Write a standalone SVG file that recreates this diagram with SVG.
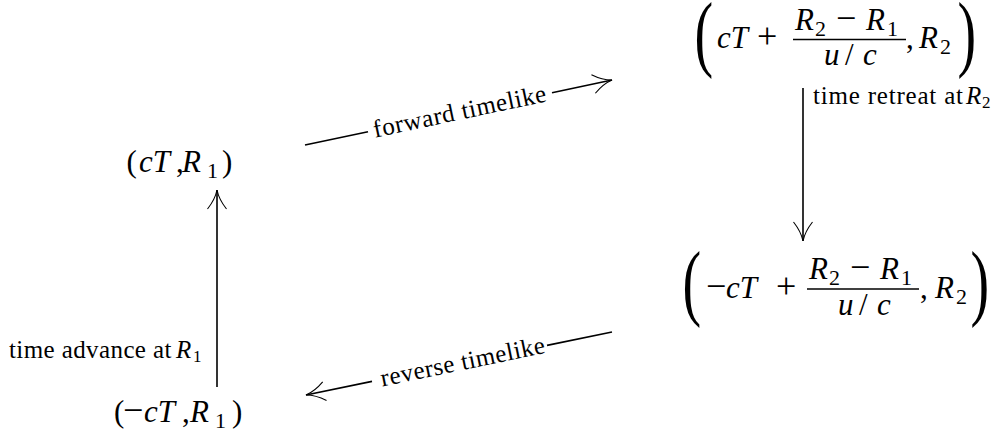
<svg xmlns="http://www.w3.org/2000/svg" width="1002" height="437" viewBox="0 0 1002 437">
<style>
.m{font-size:31px}
.i{font-style:italic}
.s{font-size:22px}
.op{font-size:36px}
.bp{font-size:56px}
.lbl{font-size:25px}
.ls{font-size:17px}
.edge{stroke:#000;stroke-width:1.6;fill:none}
.bar{stroke:#000;stroke-width:1.6}
</style>
<defs>
<marker id="to" markerUnits="userSpaceOnUse" markerWidth="40" markerHeight="40" viewBox="-25 -20 40 40" refX="0" refY="0" orient="auto" overflow="visible">
<path d="M-19,-9.5 C-12,-4 -5,-1 0,0 C-5,1 -12,4 -19,9.5" fill="none" stroke="#000" stroke-width="1.1"/>
</marker>
</defs>
<g id="connectors">
<line class="edge" x1="217" y1="387" x2="217" y2="190" marker-end="url(#to)"/>
<line class="edge" x1="803" y1="88" x2="803" y2="241" marker-end="url(#to)"/>
<line class="edge" x1="305" y1="145" x2="368" y2="131.7"/>
<line class="edge" x1="552" y1="92.7" x2="612" y2="80" marker-end="url(#to)"/>
<line class="edge" x1="612" y1="332" x2="547" y2="345.4"/>
<line class="edge" x1="372" y1="381.4" x2="306" y2="395" marker-end="url(#to)"/>
<text font-family="Times New Roman" class="lbl" letter-spacing="0.6" transform="translate(460,112.5) rotate(-11.95)" x="0" y="7" text-anchor="middle">forward timelike</text>
<text font-family="Times New Roman" class="lbl" letter-spacing="0.45" transform="translate(463,362.7) rotate(-11.63)" x="0" y="7" text-anchor="middle">reverse timelike</text>
<text font-family="Times New Roman" class="lbl" letter-spacing="0.8" x="813" y="104">time retreat at</text>
<text font-family="Times New Roman" class="lbl i" x="966" y="104">R</text>
<text font-family="Times New Roman" class="ls" x="982" y="108">2</text>
<text font-family="Times New Roman" class="lbl" letter-spacing="0.4" x="9" y="358">time advance at</text>
<text font-family="Times New Roman" class="lbl i" x="176" y="358">R</text>
<text font-family="Times New Roman" class="ls" x="193" y="362">1</text>
</g>

<g id="nodeA">
<text font-family="Times New Roman" class="m" x="126.5" y="172">(</text>
<text font-family="Times New Roman" class="m i" x="139" y="172">cT</text>
<text font-family="Times New Roman" class="m" x="176" y="172">,</text>
<text font-family="Times New Roman" class="m i" x="182" y="172">R</text>
<text font-family="Times New Roman" class="s" x="207" y="178">1</text>
<text font-family="Times New Roman" class="m" x="222" y="172">)</text>
</g>

<g id="nodeB">
<text font-family="Times New Roman" class="bp" transform="translate(694.5,61) scale(1,1.5)">(</text>
<text font-family="Times New Roman" class="m i" x="717" y="48">cT</text>
<text font-family="Times New Roman" class="op" x="757" y="48">+</text>
<text font-family="Times New Roman" class="m i" x="795" y="30">R</text>
<text font-family="Times New Roman" class="s" x="815" y="36">2</text>
<text font-family="Times New Roman" class="op" x="836" y="30">&#8722;</text>
<text font-family="Times New Roman" class="m i" x="866" y="30">R</text>
<text font-family="Times New Roman" class="s" x="887" y="36">1</text>
<line class="bar" x1="793" y1="39.5" x2="906" y2="39.5"/>
<text font-family="Times New Roman" class="m i" x="824" y="65">u</text>
<text font-family="Times New Roman" class="m" x="845" y="65">/</text>
<text font-family="Times New Roman" class="m i" x="863" y="65">c</text>
<text font-family="Times New Roman" class="m" x="906" y="48">,</text>
<text font-family="Times New Roman" class="m i" x="919" y="48">R</text>
<text font-family="Times New Roman" class="s" x="940" y="54">2</text>
<text font-family="Times New Roman" class="bp" transform="translate(957.5,61) scale(1,1.5)">)</text>
</g>

<g id="nodeC">
<text font-family="Times New Roman" class="bp" transform="translate(682.5,310) scale(1,1.5)">(</text>
<text font-family="Times New Roman" class="op" x="706" y="297.5">&#8722;</text>
<text font-family="Times New Roman" class="m i" x="726" y="297.5">cT</text>
<text font-family="Times New Roman" class="op" x="776" y="297.5">+</text>
<text font-family="Times New Roman" class="m i" x="809" y="279">R</text>
<text font-family="Times New Roman" class="s" x="829" y="285">2</text>
<text font-family="Times New Roman" class="op" x="850" y="279">&#8722;</text>
<text font-family="Times New Roman" class="m i" x="880" y="279">R</text>
<text font-family="Times New Roman" class="s" x="901" y="285">1</text>
<line class="bar" x1="807" y1="289" x2="919" y2="289"/>
<text font-family="Times New Roman" class="m i" x="838" y="315">u</text>
<text font-family="Times New Roman" class="m" x="859" y="315">/</text>
<text font-family="Times New Roman" class="m i" x="877" y="315">c</text>
<text font-family="Times New Roman" class="m" x="920" y="297.5">,</text>
<text font-family="Times New Roman" class="m i" x="935" y="297.5">R</text>
<text font-family="Times New Roman" class="s" x="956" y="303.5">2</text>
<text font-family="Times New Roman" class="bp" transform="translate(970.5,310) scale(1,1.5)">)</text>
</g>

<g id="nodeD">
<text font-family="Times New Roman" class="m" x="114" y="422">(</text>
<text font-family="Times New Roman" class="op" x="123" y="422">&#8722;</text>
<text font-family="Times New Roman" class="m i" x="144" y="422">cT</text>
<text font-family="Times New Roman" class="m" x="182" y="422">,</text>
<text font-family="Times New Roman" class="m i" x="190" y="422">R</text>
<text font-family="Times New Roman" class="s" x="215" y="428">1</text>
<text font-family="Times New Roman" class="m" x="232" y="422">)</text>
</g>
</svg>
